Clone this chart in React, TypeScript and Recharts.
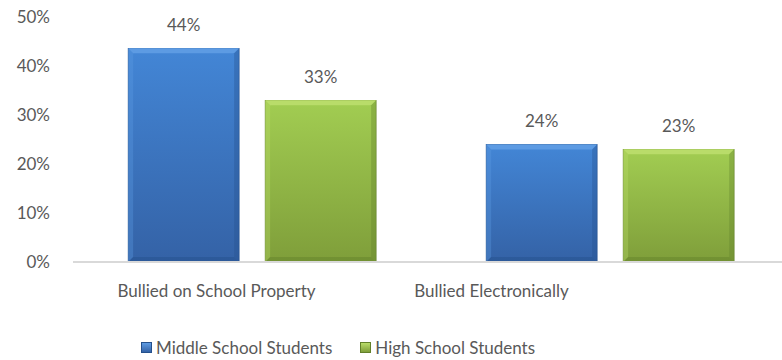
import { BarChart, Bar, XAxis, YAxis, LabelList, Legend } from 'recharts'

const categories = ['Bullied on School Property', 'Bullied Electronically']
const middleSchool = [43.6, 24]
const highSchool = [33, 23]
const yTicks = [0, 10, 20, 30, 40, 50]
const seriesNames = ['Middle School Students', 'High School Students']

const data = categories.map((name, i) => ({
  name,
  middle: middleSchool[i],
  high: highSchool[i],
}))

const FONT = 'Lato, "Open Sans", sans-serif'
const TEXT = '#595959'
const FS = 17

const palette = {
  middle: { light: '#5d9be3', top: '#4386d6', bottom: '#3462a6', dark: '#24508c' },
  high: { light: '#b9dc6a', top: '#a2cd52', bottom: '#7f9e3a', dark: '#62802a' },
}

function BevelBar(props: any) {
  const { x, y, width, height, dataKey } = props
  if (!height || height <= 0) return null
  const c = palette[dataKey as 'middle' | 'high']
  const b = 5
  return (
    <g>
      <rect x={x} y={y} width={width} height={height} fill={`url(#grad-${dataKey})`} stroke={c.dark} strokeWidth={0.6} />
      <polygon points={`${x},${y} ${x + width},${y} ${x + width - b},${y + b} ${x + b},${y + b}`} fill={c.light} />
      <polygon points={`${x},${y} ${x + b},${y + b} ${x + b},${y + height - b} ${x},${y + height}`} fill={c.light} opacity={0.35} />
      <polygon points={`${x + width},${y} ${x + width - b},${y + b} ${x + width - b},${y + height - b} ${x + width},${y + height}`} fill={c.dark} opacity={0.35} />
      <polygon points={`${x},${y + height} ${x + b},${y + height - b} ${x + width - b},${y + height - b} ${x + width},${y + height}`} fill={c.dark} opacity={0.45} />
    </g>
  )
}

function LegendContent() {
  const keys: ('middle' | 'high')[] = ['middle', 'high']
  return (
    <div style={{ display: 'flex', gap: 28, marginLeft: 141, paddingTop: 25, fontFamily: FONT, fontSize: FS, color: TEXT }}>
      {keys.map((k, i) => (
        <div key={k} style={{ display: 'flex', alignItems: 'center', gap: 4 }}>
          <span
            style={{
              width: 9, height: 9, display: 'inline-block',
              background: `linear-gradient(${palette[k].light}, ${palette[k].bottom})`,
              border: `1px solid ${palette[k].dark}`,
            }}
          />
          <span>{seriesNames[i]}</span>
        </div>
      ))}
    </div>
  )
}

export default function App() {
  return (
    <div style={{ position: 'absolute', left: 0, top: 0 }}>
      <BarChart
        width={790}
        height={360}
        data={data}
        margin={{ top: 17, right: 1, left: 0, bottom: 0 }}
        barCategoryGap="15.4%"
        barGap={26}
      >
        <defs>
          {(['middle', 'high'] as const).map(k => (
            <linearGradient key={k} id={`grad-${k}`} x1="0" y1="0" x2="0" y2="1">
              <stop offset="0%" stopColor={palette[k].top} />
              <stop offset="100%" stopColor={palette[k].bottom} />
            </linearGradient>
          ))}
        </defs>
        <XAxis dataKey="name" tick={false} tickLine={false} axisLine={false} height={0} />
        <XAxis
          xAxisId="labels"
          dataKey="name"
          orientation="bottom"
          axisLine={{ stroke: '#d9d9d9', strokeWidth: 2 }}
          tickLine={false}
          tickSize={0}
          tickMargin={23}
          padding={{ left: 6, right: 160 }}
          tick={{ fill: TEXT, fontSize: FS, fontFamily: FONT }}
          height={50}
        />
        <YAxis
          ticks={yTicks}
          domain={[0, 50]}
          tickFormatter={v => `${v}%`}
          axisLine={false}
          tickLine={false}
          tickSize={0}
          tickMargin={23}
          width={73}
          tick={{ fill: TEXT, fontSize: FS, fontFamily: FONT }}
        />
        <Legend verticalAlign="bottom" height={48} content={<LegendContent />} />
        <Bar dataKey="middle" name={seriesNames[0]} shape={<BevelBar />} isAnimationActive={false}>
          <LabelList
            dataKey="middle"
            position="top"
            offset={17}
            formatter={(v: any) => `${Math.round(Number(v))}%`}
            style={{ fill: TEXT, fontSize: FS, fontFamily: FONT }}
          />
        </Bar>
        <Bar dataKey="high" name={seriesNames[1]} shape={<BevelBar />} isAnimationActive={false}>
          <LabelList
            dataKey="high"
            position="top"
            offset={17}
            formatter={(v: any) => `${Math.round(Number(v))}%`}
            style={{ fill: TEXT, fontSize: FS, fontFamily: FONT }}
          />
        </Bar>
      </BarChart>
    </div>
  )
}
